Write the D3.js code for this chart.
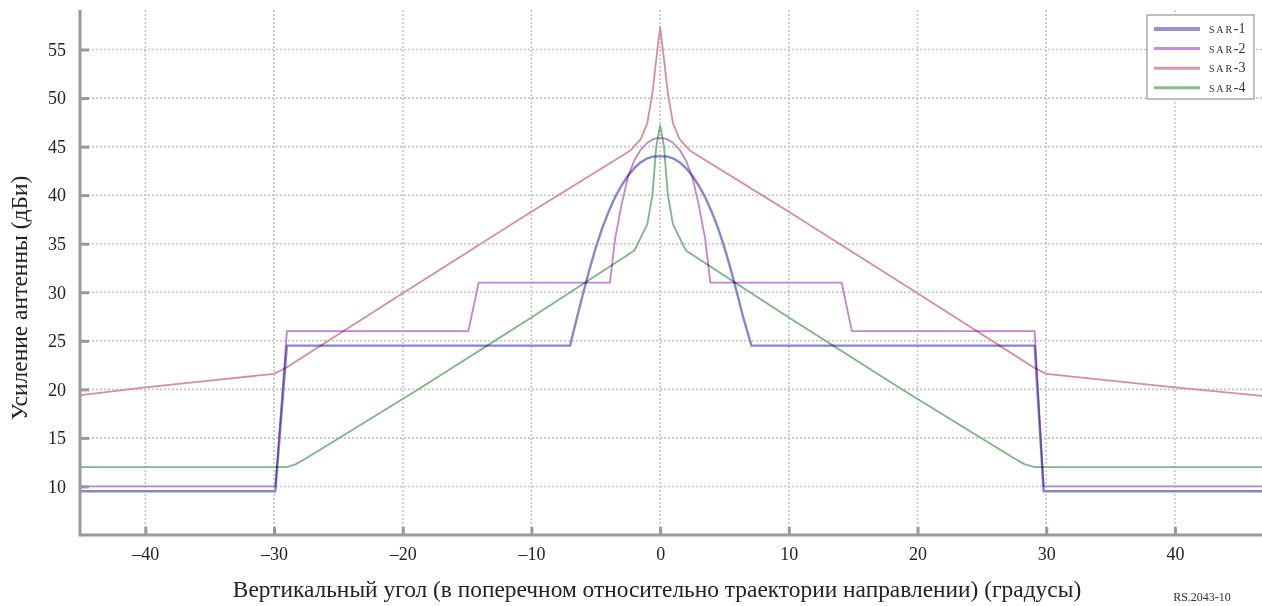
<!DOCTYPE html>
<html><head><meta charset="utf-8">
<script src="https://cdn.jsdelivr.net/npm/d3@7"></script>
<style>
html,body{margin:0;padding:0;background:#fff;}
svg{display:block;font-family:"Liberation Serif","Times New Roman",serif;}
</style></head>
<body><svg id="c" width="1262" height="606"></svg>
<script>
// ---- data ----
const xTicks = [-40,-30,-20,-10,0,10,20,30,40];
const yTicks = [10,15,20,25,30,35,40,45,50,55];
const seriesNames = ["SAR-1","SAR-2","SAR-3","SAR-4"];
const sar1 = [[-45,9.5],[-29.9,9.5],[-29.0,24.5],[-7,24.5],[-6.5,27.2],[-6,29.8],[-5.5,32.3],[-5,34.6],[-4.5,36.6],[-4,38.3],[-3.5,39.8],[-3,41.0],[-2.5,42.0],[-2,42.8],[-1.5,43.4],[-1,43.8],[-0.5,44.0],[0,44.0],[0.5,44.0],[1,43.8],[1.5,43.4],[2,42.8],[2.5,42.0],[3,41.0],[3.5,39.8],[4,38.3],[4.5,36.6],[5,34.6],[5.5,32.3],[6,29.8],[6.5,27.2],[7.1,24.5],[29.1,24.5],[29.8,9.5],[47,9.5]];
const sar2 = [[-45,10],[-29.9,10],[-29.0,26],[-14.9,26],[-14.1,31],[-3.9,31],[-3.5,35.5],[-3,39.0],[-2.5,41.9],[-2,43.6],[-1.5,44.7],[-1,45.4],[-0.5,45.8],[0,45.9],[0.5,45.8],[1,45.4],[1.5,44.7],[2,43.6],[2.5,41.9],[3,39.0],[3.5,35.5],[3.9,31],[14.1,31],[14.9,26],[29.1,26],[29.8,10],[47,10]];
const sar3 = [[-45,19.4],[-40,20.2],[-35,20.9],[-30,21.6],[-29.1,22.2],[-20,29.9],[-10,38.3],[-2.3,44.6],[-1.5,45.8],[-1,47.4],[-0.6,50.5],[-0.3,54.0],[0,57.3],[0.3,54.0],[0.6,50.5],[1,47.4],[1.5,45.8],[2.3,44.6],[10,38.3],[20,29.9],[29.1,22.2],[30,21.6],[35,20.9],[40,20.2],[47,19.3]];
const sar4 = [[-45,12],[-29,12],[-28.3,12.3],[-27.5,12.9],[-18.9,19.9],[-10,27.4],[-2,34.3],[-1,37.0],[-0.6,40.0],[-0.3,45.0],[0,47.2],[0.3,45.0],[0.6,40.0],[1,37.0],[2,34.3],[10,27.4],[18.9,19.9],[27.5,12.9],[28.3,12.3],[29.1,12],[47,12]];
const seriesData = [sar1,sar2,sar3,sar4];
const colors = ["#7d80cc","#c07ccf","#d7878e","#74b27c"];
const widths = [2.4,1.8,1.8,1.8];

// ---- chart ----
const svg = d3.select("#c");
const x = d3.scaleLinear().domain([-45,47]).range([81,1265]);
const y = d3.scaleLinear().domain([5,59]).range([535,10.7]);
const pL = 80, pB = 535, pT = 10, pR = 1262;

const g = svg.append("g");
// grid
g.selectAll(".vg").data(xTicks).join("line")
  .attr("x1",d=>x(d)).attr("x2",d=>x(d)).attr("y1",pT).attr("y2",pB)
  .attr("stroke","#c4c4c4").attr("stroke-width",1.6).attr("stroke-dasharray","2,2");
g.selectAll(".hg").data(yTicks).join("line")
  .attr("x1",pL).attr("x2",pR).attr("y1",d=>y(d)).attr("y2",d=>y(d))
  .attr("stroke","#c4c4c4").attr("stroke-width",1.6).attr("stroke-dasharray","2,2");

// lines
const line = d3.line().x(d=>x(d[0])).y(d=>y(d[1]));
svg.append("defs").append("clipPath").attr("id","clip").append("rect")
  .attr("x",pL).attr("y",0).attr("width",pR-pL).attr("height",pB);
const lg = svg.append("g").attr("clip-path","url(#clip)");
seriesData.forEach((s,i)=>{
  lg.append("path").datum(s).attr("d",line).attr("fill","none")
    .attr("stroke",colors[i]).attr("stroke-width",widths[i])
    .attr("stroke-linejoin","round").attr("opacity",0.95)
    .style("mix-blend-mode","multiply");
});

// axes
const xAxis = d3.axisBottom(x).tickValues(xTicks).tickSize(-8).tickPadding(12)
  .tickFormat(d=>d<0?"\u2013"+Math.abs(d):String(d));
const xa = svg.append("g").attr("transform",`translate(0,${pB})`).call(xAxis);
xa.select(".domain").remove();
xa.selectAll(".tick line").attr("stroke","#999").attr("stroke-width",3);
xa.selectAll(".tick text").attr("font-size",18).attr("fill","#222")
  .attr("font-family","Liberation Serif, serif");
svg.append("line").attr("x1",pL).attr("x2",pR).attr("y1",pB).attr("y2",pB)
  .attr("stroke","#9a9a9a").attr("stroke-width",3);

const yAxis = d3.axisLeft(y).tickValues(yTicks).tickSize(-9).tickPadding(14);
const ya = svg.append("g").attr("transform",`translate(${pL},0)`).call(yAxis);
ya.select(".domain").remove();
ya.selectAll(".tick line").attr("stroke","#999").attr("stroke-width",3);
ya.selectAll(".tick text").attr("font-size",18).attr("fill","#222")
  .attr("font-family","Liberation Serif, serif");
svg.append("line").attr("x1",pL).attr("x2",pL).attr("y1",pT).attr("y2",pB+1.5)
  .attr("stroke","#9a9a9a").attr("stroke-width",3);

// axis titles
svg.append("text").attr("x",657).attr("y",597).attr("text-anchor","middle")
  .attr("font-size",23.4).attr("fill","#222")
  .text("Вертикальный угол (в поперечном относительно траектории направлении) (градусы)");
svg.append("text").attr("transform","translate(27,298) rotate(-90)").attr("text-anchor","middle")
  .attr("font-size",23.5).attr("fill","#222").text("Усиление антенны (дБи)");
svg.append("text").attr("x",1202).attr("y",601).attr("text-anchor","middle")
  .attr("font-size",12).attr("fill","#333").text("RS.2043-10");

// legend
const leg = svg.append("g");
leg.append("rect").attr("x",1147).attr("y",15).attr("width",107).attr("height",84)
  .attr("fill","#fff").attr("stroke","#aaa").attr("stroke-width",1.5);
seriesNames.forEach((n,i)=>{
  const yy = 29 + i*19.6;
  leg.append("line").attr("x1",1154).attr("x2",1200).attr("y1",yy).attr("y2",yy)
    .attr("stroke",colors[i]).attr("stroke-width",i===0?4:3).attr("opacity",0.85);
  const t = leg.append("text").attr("x",1209).attr("y",yy+4).attr("fill","#333");
  const parts = n.split("-");
  t.append("tspan").attr("font-size",10).attr("letter-spacing",1.8).text(parts[0]);
  t.append("tspan").attr("font-size",14).text("-"+parts[1]);
});
</script></body></html>
